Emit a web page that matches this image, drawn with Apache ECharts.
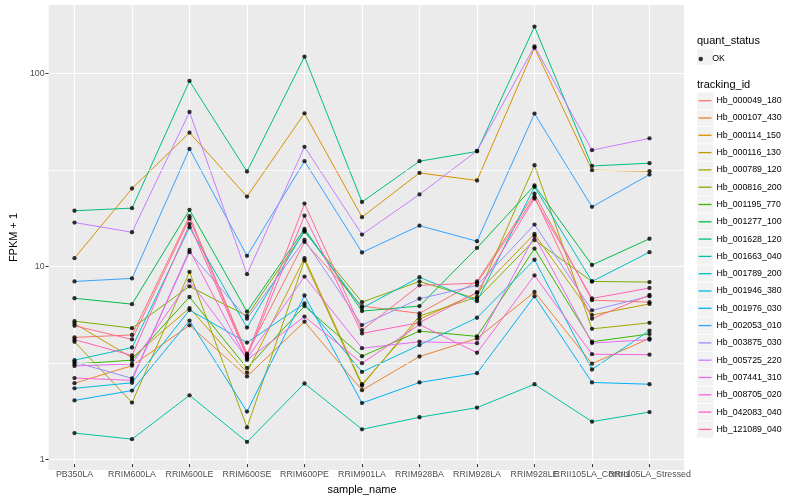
<!DOCTYPE html>
<html><head><meta charset="utf-8">
<script src="https://cdn.jsdelivr.net/npm/echarts@6/dist/echarts.min.js"></script>
<style>html,body{margin:0;padding:0;background:#fff}#c{width:800px;height:500px}</style>
</head><body><div id="c"></div>
<script>
// ---------- data ----------
const categories = ['PB350LA','RRIM600LA','RRIM600LE','RRIM600SE','RRIM600PE','RRIM901LA','RRIM928BA','RRIM928LA','RRIM928LE','RRII105LA_Control','RRII105LA_Stressed'];
const trackingIds = ['Hb_000049_180','Hb_000107_430','Hb_000114_150','Hb_000116_130','Hb_000789_120','Hb_000816_200','Hb_001195_770','Hb_001277_100','Hb_001628_120','Hb_001663_040','Hb_001789_200','Hb_001946_380','Hb_001976_030','Hb_002053_010','Hb_003875_030','Hb_005725_220','Hb_007441_310','Hb_008705_020','Hb_042083_040','Hb_121089_040'];
const Hb_000049_180 = [4.07, 4.19, 17.6, 3.34, 12.9, 5.94, 5.44, 8.0, 23.1, 6.38, 6.23];
const Hb_000107_430 = [2.34, 2.89, 4.71, 2.54, 4.92, 2.15, 3.23, 4.02, 7.04, 2.96, 4.02];
const Hb_000114_150 = [10.6, 24.6, 48.3, 22.3, 61, 17.4, 29.7, 27.1, 134.7, 30.7, 30.3];
const Hb_000116_130 = [4.81, 3.18, 5.8, 2.66, 10.6, 2.31, 5.07, 6.96, 14.2, 5.33, 6.10];
const Hb_000789_120 = [3.86, 1.85, 8.97, 1.37, 10.3, 2.27, 5.27, 6.63, 32.6, 4.51, 4.85];
const Hb_000816_200 = [4.95, 4.55, 7.54, 5.27, 14.6, 6.23, 8.0, 6.48, 13.2, 8.0, 7.94];
const Hb_001195_770 = [2.95, 3.09, 6.63, 2.81, 5.94, 3.24, 4.39, 4.12, 11.9, 3.86, 4.24];
const Hb_001277_100 = [6.53, 6.08, 19.0, 5.55, 15.1, 5.59, 5.94, 12.0, 25.5, 9.76, 13.4];
const Hb_001628_120 = [18.8, 19.4, 90.2, 30.2, 121, 20.9, 34.2, 38.5, 174, 32.3, 33.4];
const Hb_001663_040 = [1.28, 1.19, 2.02, 1.15, 2.33, 1.34, 1.55, 1.74, 2.31, 1.47, 1.65];
const Hb_001789_200 = [3.09, 3.60, 15.4, 4.58, 14.8, 5.80, 8.42, 6.30, 25.1, 8.0, 11.4];
const Hb_001946_380 = [2.20, 2.35, 5.66, 3.82, 6.13, 2.68, 3.71, 5.16, 10.4, 2.76, 4.42];
const Hb_001976_030 = [1.90, 2.14, 4.98, 1.66, 6.75, 1.84, 2.36, 2.64, 6.69, 2.36, 2.31];
const Hb_002053_010 = [8.0, 8.3, 39.7, 10.9, 34.2, 11.35, 15.7, 13.0, 60.8, 19.7, 29.1];
const Hb_003875_030 = [3.02, 2.48, 11.4, 5.10, 13.2, 4.72, 6.49, 7.63, 15.9, 5.64, 6.69];
const Hb_005725_220 = [16.3, 14.5, 62, 8.73, 40.7, 14.1, 22.9, 38.8, 137, 39.1, 45.1];
const Hb_007441_310 = [2.88, 2.95, 8.07, 3.15, 8.49, 3.57, 3.86, 3.79, 13.85, 3.80, 3.96];
const Hb_008705_020 = [2.49, 2.42, 11.7, 3.10, 5.23, 2.98, 4.75, 3.38, 8.6, 3.32, 3.30];
const Hb_042083_040 = [3.96, 3.27, 16.0, 3.21, 17.7, 4.27, 4.86, 7.02, 21.8, 6.51, 7.39];
const Hb_121089_040 = [4.68, 3.97, 17.1, 3.27, 20.5, 4.44, 7.63, 7.84, 22.2, 5.10, 6.79];
const seriesValues = [Hb_000049_180,Hb_000107_430,Hb_000114_150,Hb_000116_130,Hb_000789_120,Hb_000816_200,Hb_001195_770,Hb_001277_100,Hb_001628_120,Hb_001663_040,Hb_001789_200,Hb_001946_380,Hb_001976_030,Hb_002053_010,Hb_003875_030,Hb_005725_220,Hb_007441_310,Hb_008705_020,Hb_042083_040,Hb_121089_040];
const quantStatus = ['OK'];
const yBreaks = [1, 10, 100];
const yMinorBreaks = [3.162, 31.62];
const colors = ['#F8766D','#EA8331','#D89000','#C09B00','#A3A500','#7CAE00','#39B600','#00BB4E','#00BF7D','#00C1A3','#00BFC4','#00BAE0','#00B0F6','#35A2FF','#9590FF','#C77CFF','#E76BF3','#FA62DB','#FF62BC','#FF6C91'];

// ---------- layout ----------
const FONT = 'Liberation Sans, Arial, Helvetica, sans-serif';
const panel = {left: 40, top: 5, width: 644, height: 465};
const unit = panel.width / (categories.length - 1 + 1.2);
const dataLeft = panel.left + 0.6 * unit;
const dataWidth = (categories.length - 1) * unit;
const yMin = 0.88, yMax = 225.9;

const chart = echarts.init(document.getElementById('c'));

const lineSeries = trackingIds.map((id, k) => ({
  name: id, type: 'line', xAxisIndex: 1, yAxisIndex: 1,
  data: seriesValues[k], symbol: 'none', showSymbol: false,
  lineStyle: {width: 1, color: colors[k]}, itemStyle: {color: colors[k]},
  z: 3, silent: true
}));
const pts = [];
seriesValues.forEach(arr => arr.forEach((v, i) => pts.push([i, v])));
const pointSeries = {
  name: quantStatus[0], type: 'scatter', xAxisIndex: 1, yAxisIndex: 1,
  data: pts, symbol: 'circle', symbolSize: 4.3, itemStyle: {color: '#000'}, z: 6, silent: true
};
// minor panel grid lines (full panel width) as markLines on a helper series in the panel grid
const minorGridSeries = {
  name: '__minor_grid', type: 'line', xAxisIndex: 0, yAxisIndex: 0, data: [],
  silent: true, z: 1, symbol: 'none',
  markLine: {
    silent: true, symbol: ['none', 'none'], label: {show: false}, animation: false,
    lineStyle: {color: '#FFFFFF', width: 0.8, type: 'solid'},
    emphasis: {disabled: true},
    data: yMinorBreaks.map(v => ({yAxis: v}))
  }
};

// legend key backgrounds
const legStep = 17.3, legTop0 = 100.7;
const keyRects = [];
keyRects.push({type: 'rect', shape: {x: 697, y: 48.5, width: 16.5, height: 16.5}, style: {fill: '#F2F2F2'}, z: -1, silent: true});
for (let i = 0; i < trackingIds.length; i++) {
  keyRects.push({type: 'rect', shape: {x: 697, y: legTop0 + i * legStep - 8.25, width: 16.5, height: 16.5}, style: {fill: '#F2F2F2'}, z: -1, silent: true});
}

chart.setOption({
  animation: false,
  textStyle: {fontFamily: FONT},
  graphic: keyRects,
  title: [
    {text: 'quant_status', left: 697, top: 35.3, padding: 0, textStyle: {fontSize: 11, fontWeight: 'normal', color: '#000', fontFamily: FONT}},
    {text: 'tracking_id', left: 697, top: 79, padding: 0, textStyle: {fontSize: 11, fontWeight: 'normal', color: '#000', fontFamily: FONT}}
  ],
  legend: [
    {data: [{name: quantStatus[0], icon: 'circle'}], left: 698.5, top: 54.5, padding: 0,
     itemWidth: 13, itemHeight: 4.5, selectedMode: false,
     textStyle: {fontSize: 8.8, color: '#000', fontFamily: FONT}},
    {data: trackingIds.map(n => ({name: n, icon: 'rect'})), orient: 'vertical', left: 698.5, top: legTop0 - 7, padding: 0,
     itemWidth: 13, itemHeight: 1.3, itemGap: legStep - 14, selectedMode: false,
     textStyle: {fontSize: 8.8, lineHeight: 14, color: '#000', fontFamily: FONT}}
  ],
  grid: [
    {left: panel.left, top: panel.top, width: panel.width, height: panel.height, show: true, backgroundColor: '#EBEBEB', borderWidth: 0, containLabel: false},
    {left: dataLeft, top: panel.top, width: dataWidth, height: panel.height, show: false, containLabel: false}
  ],
  xAxis: [
    {type: 'value', gridIndex: 0, min: 0, max: 1, show: false},
    {type: 'category', gridIndex: 1, data: categories, boundaryGap: false,
     axisLine: {show: false},
     axisTick: {show: true, interval: 0, length: 3, lineStyle: {color: '#333333', width: 1}},
     axisLabel: {interval: 0, color: '#4D4D4D', fontSize: 8.8, margin: 6, fontFamily: FONT},
     splitLine: {show: true, interval: 0, lineStyle: {color: '#FFFFFF', width: 1.1}},
     name: 'sample_name', nameLocation: 'middle', nameGap: 14,
     nameTextStyle: {color: '#000', fontSize: 11, fontFamily: FONT}}
  ],
  yAxis: [
    {type: 'log', logBase: 10, gridIndex: 0, min: yMin, max: yMax,
     axisLine: {show: false},
     axisTick: {show: true, length: 3, lineStyle: {color: '#333333', width: 1}, customValues: yBreaks},
     axisLabel: {customValues: yBreaks, color: '#4D4D4D', fontSize: 8.8, margin: 4, fontFamily: FONT},
     splitLine: {show: true, lineStyle: {color: '#FFFFFF', width: 1.1}},
     name: 'FPKM + 1', nameLocation: 'middle', nameGap: 24, nameRotate: 90,
     nameTextStyle: {color: '#000', fontSize: 11, fontFamily: FONT}},
    {type: 'log', logBase: 10, gridIndex: 1, min: yMin, max: yMax, show: false,
     splitLine: {show: false}}
  ],
  series: [minorGridSeries].concat(lineSeries, [pointSeries])
});
</script></body></html>
